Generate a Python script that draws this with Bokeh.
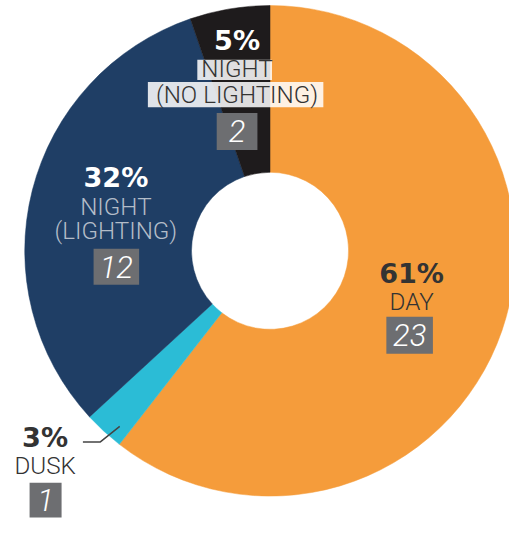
import math
from bokeh.plotting import figure
from bokeh.models import Range1d
from bokeh.core.properties import value
from bokeh.embed import file_html
from bokeh.resources import INLINE

# ---- data ----
categories = ["DAY", "DUSK", "NIGHT (LIGHTING)", "NIGHT (NO LIGHTING)"]
name_lines = [["DAY"], ["DUSK"], ["NIGHT", "(LIGHTING)"], ["NIGHT", "(NO LIGHTING)"]]
counts = [23, 1, 12, 2]
colors = ["#F59C3B", "#2BBCD6", "#1F3E65", "#1E1B1C"]

total = sum(counts)
pcts = [f"{round(100 * c / total)}%" for c in counts]

# ---- layout: data units are pixels of the 525x536 design, drawn at scale S ----
DW, DH = 525, 536
W, H = 509, 520
S = W / DW

def sy(y):  # design y (top-down) -> data y (bottom-up)
    return DH - y

def fs(px):
    return f"{px * S:.1f}px"

cx, cy = 278, 258
R_OUT, R_IN = 253, 81

label_pos = {
    "DAY": dict(x=424, py=281, ny=[311], box=(398, 446, 326, 364),
                pc="#333333", nc="#333333"),
    "DUSK": dict(x=46, py=450, ny=[480], box=(30, 63, 497, 533),
                 pc="#333333", nc="#333333"),
    "NIGHT (LIGHTING)": dict(x=119, py=182, ny=[213, 238], box=(96, 143, 256, 293),
                             pc="#FFFFFF", nc="#B3BCC8"),
    "NIGHT (NO LIGHTING)": dict(x=244, py=41, ny=[71, 97], box=(223, 265, 116, 154),
                                pc="#FFFFFF", nc="#333333",
                                bg=[(203, 280, 61, 82), (152, 333, 84, 110)]),
}

p = figure(width=W, height=H, output_backend="svg", toolbar_location=None,
           x_range=Range1d(0, DW), y_range=Range1d(0, DH), min_border=0)
p.axis.visible = False
p.grid.visible = False
p.outline_line_color = None
p.background_fill_color = "white"

# wedges, clockwise from 12 o'clock
cum = 0
starts, ends = [], []
for c in counts:
    starts.append(math.pi / 2 - 2 * math.pi * cum / total)
    cum += c
    ends.append(math.pi / 2 - 2 * math.pi * cum / total)
p.annular_wedge(x=cx, y=sy(cy), inner_radius=R_IN, outer_radius=R_OUT,
                start_angle=starts, end_angle=ends, direction="clock",
                fill_color=colors, line_color=colors, line_width=0.5)

pct_font = value("DejaVu Sans")
light_font = value("'Roboto Light', 'Liberation Sans'")
for cat, lines, cnt, pct in zip(categories, name_lines, counts, pcts):
    L = label_pos[cat]
    for (l, r, t, b) in L.get("bg", []):
        p.quad(left=l, right=r, top=sy(t), bottom=sy(b), fill_color="white",
               fill_alpha=0.86, line_color=None)
    p.text(x=[L["x"]], y=[sy(L["py"])], text=[pct], text_font=pct_font,
           text_font_size=fs(28), text_font_style="bold", text_color=L["pc"],
           text_align="center", text_baseline="middle")
    for ln, yy in zip(lines, L["ny"]):
        p.text(x=[L["x"]], y=[sy(yy)], text=[ln], text_font=light_font,
               text_font_size=fs(25), text_color=L["nc"],
               text_align="center", text_baseline="middle")
    l, r, t, b = L["box"]
    p.quad(left=l, right=r, top=sy(t), bottom=sy(b), fill_color="#6D6E71",
           line_color=None)
    p.text(x=[(l + r) / 2], y=[sy((t + b) / 2)], text=[str(cnt)], text_font=light_font,
           text_font_size=fs(32), text_font_style="italic", text_color="white",
           text_align="center", text_baseline="middle")

# leader line for DUSK
p.line(x=[85, 103, 123], y=[sy(455), sy(455), sy(439)], line_color="#444444",
       line_width=1.5)

open("out.html", "w").write(file_html(p, INLINE))
